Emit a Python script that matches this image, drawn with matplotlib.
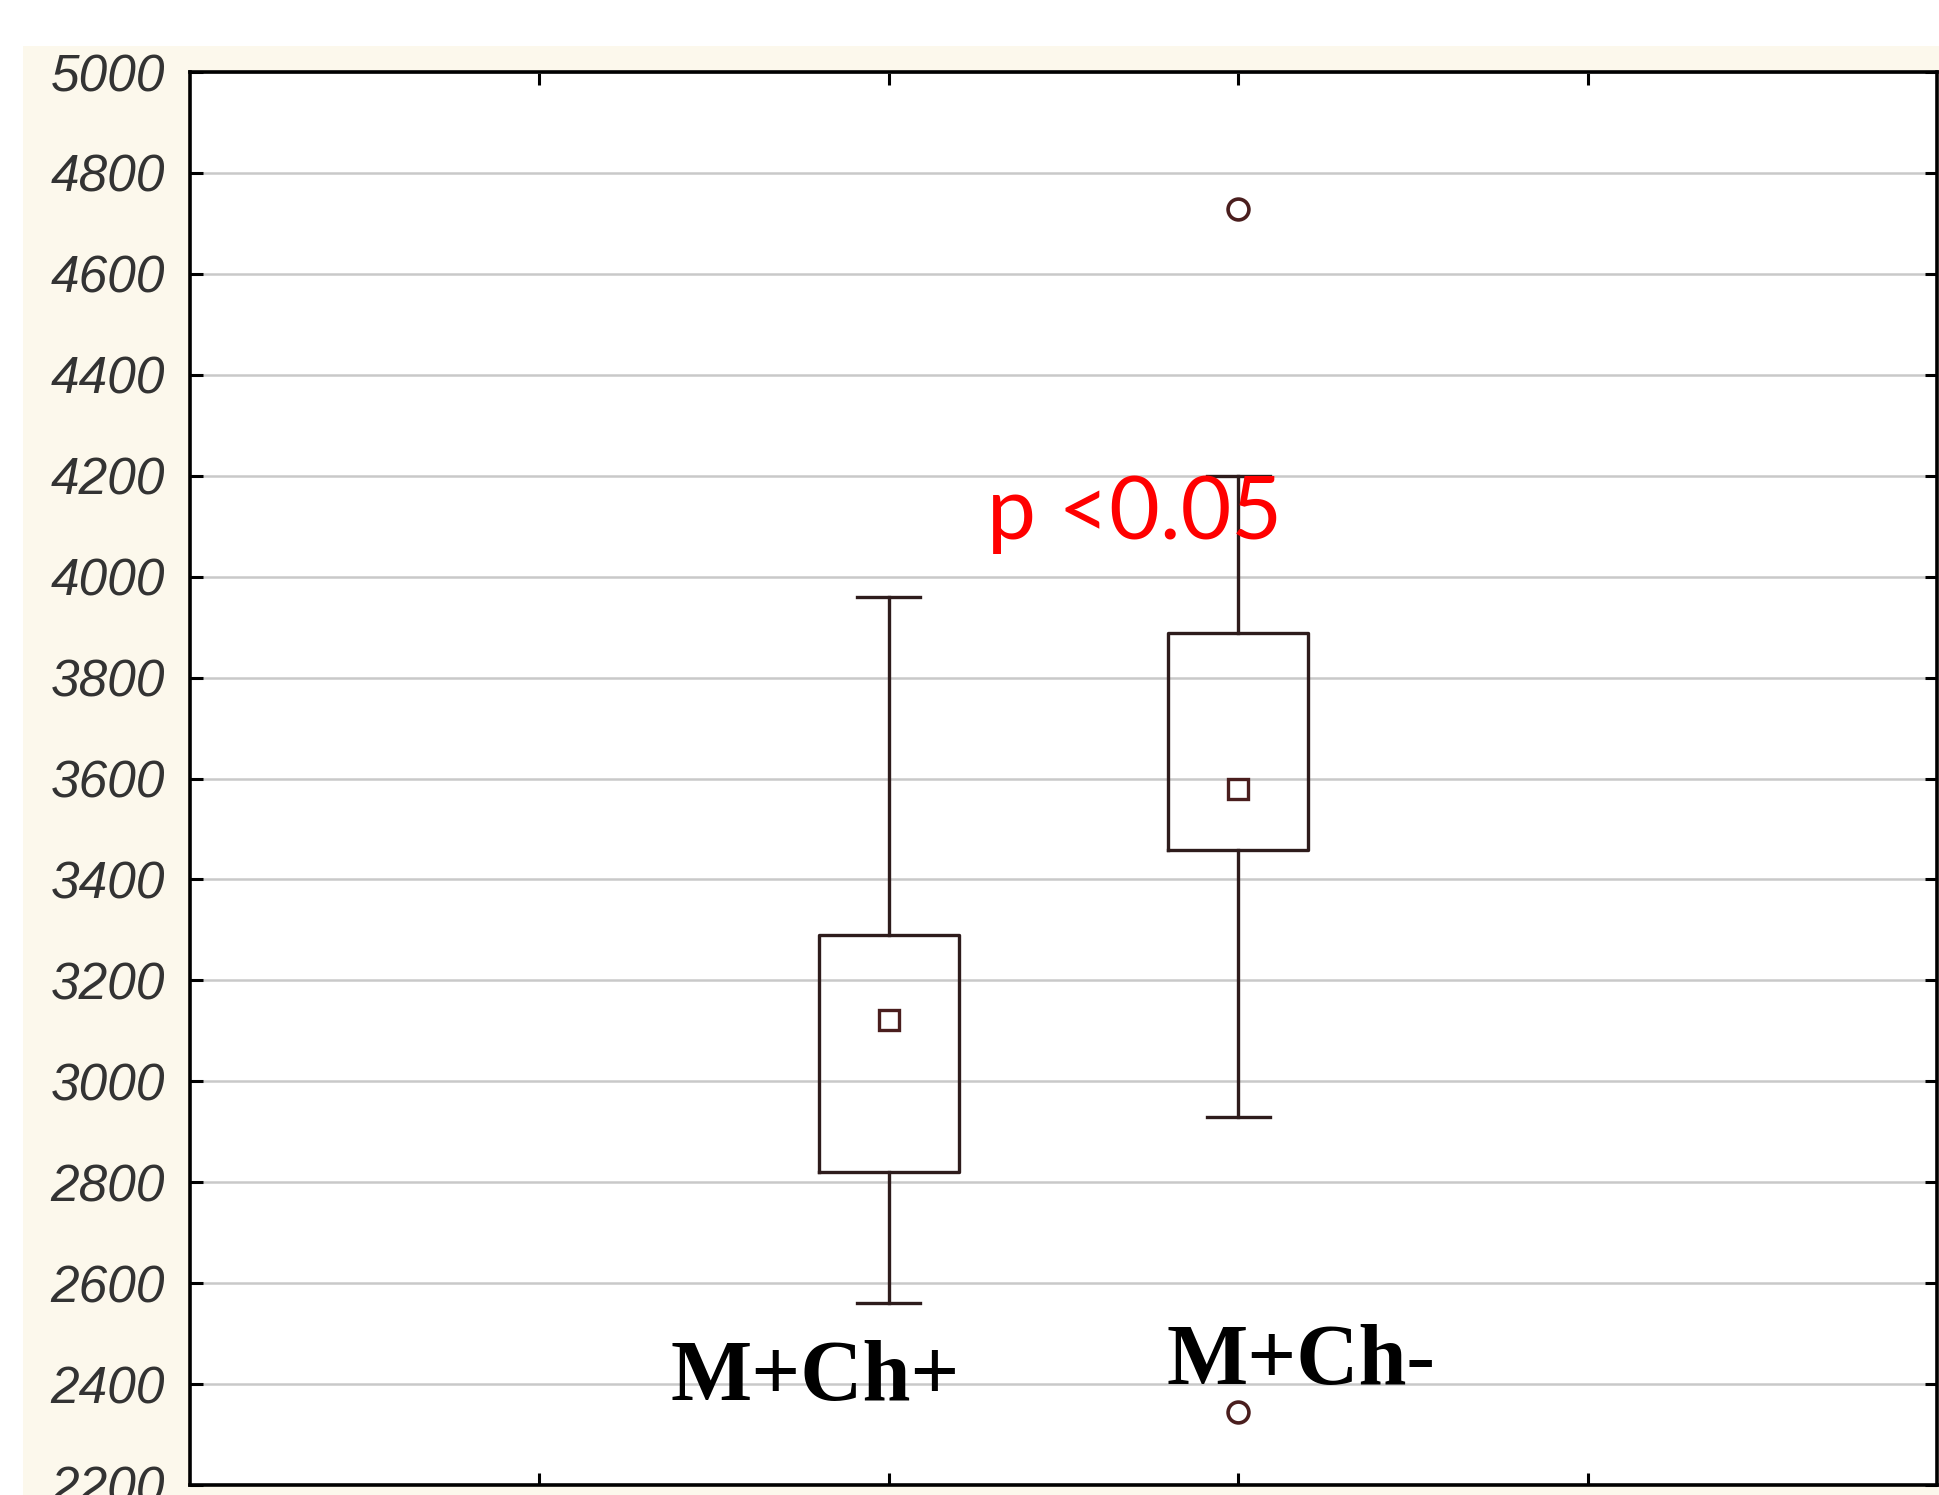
import numpy as np
import matplotlib.pyplot as plt
from matplotlib.patches import Rectangle

# valores
grupos = ['M+Ch+', 'M+Ch-']
posicoes = [2, 3]
whis_inf = [2560, 2930]
q1 = [2820, 3458]
media = [3122, 3580]
q3 = [3290, 3889]
whis_sup = [3960, 4200]
outliers = [[], [4728, 2344]]
yticks = list(range(2200, 5001, 200))

cor = '#2e1c1c'

fig = plt.figure(figsize=(19.39, 14.95), dpi=100)
fig.patch.set_facecolor('white')
# fundo bege por trás dos eixos
fig.patches.append(Rectangle((23 / 1939, 0), 1, 1 - 46 / 1495, transform=fig.transFigure,
                             facecolor='#fcf8ec', edgecolor='none', zorder=-5))

ax = fig.add_axes([190 / 1939, 10 / 1495, 1747 / 1939, 1413 / 1495])
ax.set_facecolor('white')

stats = []
for i in range(len(grupos)):
    stats.append({'whislo': whis_inf[i], 'q1': q1[i], 'med': media[i], 'mean': media[i],
                  'q3': q3[i], 'whishi': whis_sup[i], 'fliers': outliers[i]})

ax.bxp(stats, positions=posicoes, widths=0.4, capwidths=0.18, showmeans=True,
       patch_artist=False,
       boxprops=dict(color=cor, linewidth=2.4),
       whiskerprops=dict(color=cor, linewidth=2.4),
       capprops=dict(color=cor, linewidth=2.4),
       medianprops=dict(linewidth=0),
       meanprops=dict(marker='s', markersize=15, markerfacecolor='none',
                      markeredgecolor='#4a1e1e', markeredgewidth=2.4),
       flierprops=dict(marker='o', markersize=15, markerfacecolor='none',
                       markeredgecolor='#4a1e1e', markeredgewidth=2.6))

ax.set_xlim(0, 5)
ax.set_ylim(2200, 5000)
ax.set_yticks(yticks)
ax.set_xticks([1, 2, 3, 4])
ax.set_xticklabels([])
ax.yaxis.grid(True, color='#c9c9c9', linewidth=1.8)
ax.set_axisbelow(True)
ax.tick_params(axis='both', direction='in', length=9, width=2.2, color='black',
               top=True, right=True)
ax.tick_params(axis='y', pad=18)
for lab in ax.get_yticklabels():
    lab.set_fontfamily('Liberation Sans')
    lab.set_fontstyle('italic')
    lab.set_fontsize(37)
    lab.set_color('#333333')
for s in ax.spines.values():
    s.set_linewidth(2.6)
    s.set_color('black')

ax.text(1.79, 2410, grupos[0], ha='center', va='center', fontsize=62,
        fontweight='bold', family='Liberation Serif')
ax.text(3.18, 2440, grupos[1], ha='center', va='center', fontsize=62,
        fontweight='bold', family='Liberation Serif')
ax.text(2.28, 4075, 'p <0.05', color='red', fontsize=63, family='Lato',
        ha='left', va='baseline')

plt.savefig('out.png', dpi=100)
